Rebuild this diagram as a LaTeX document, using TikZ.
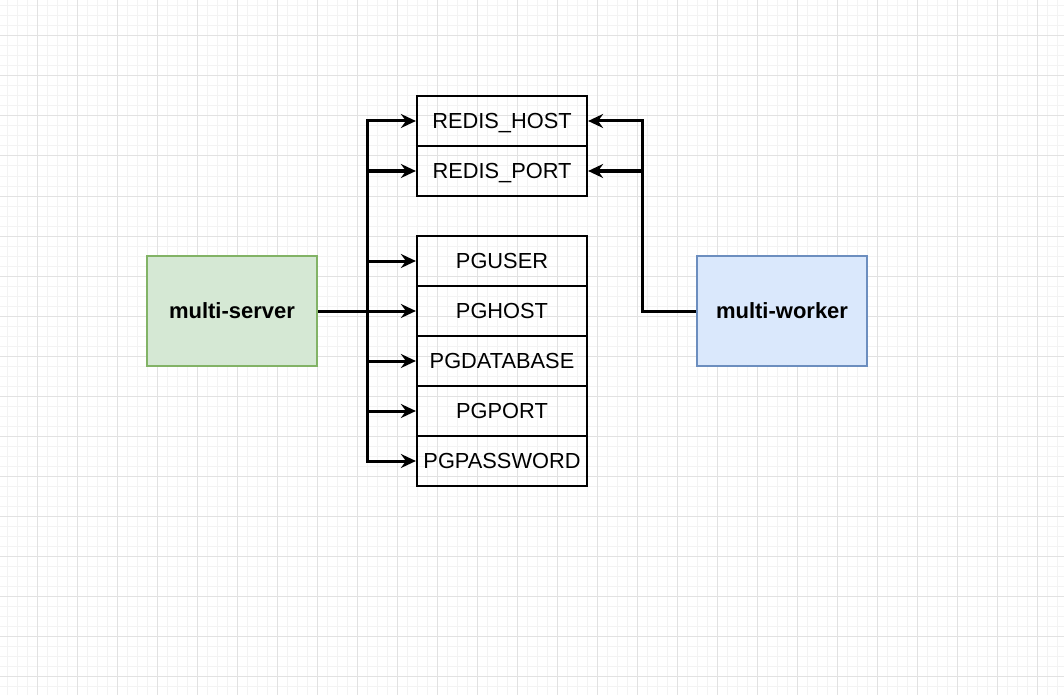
\documentclass[tikz,border=0pt]{standalone}
\usepackage{fontspec}
\setmainfont{Liberation Sans}
\usetikzlibrary{arrows.meta}
\definecolor{srvfill}{HTML}{D5E8D4}
\definecolor{srvline}{HTML}{82B366}
\definecolor{wrkfill}{HTML}{DAE8FC}
\definecolor{wrkline}{HTML}{6C8EBF}
\definecolor{gridminor}{HTML}{F3F3F3}
\definecolor{gridmajor}{HTML}{E2E2E2}
\begin{document}
\begin{tikzpicture}[x=1pt,y=-1pt,
		minor/.style={draw=gridminor,line width=1pt},
		major/.style={draw=gridmajor,line width=1pt},
		app/.style={minimum width=170pt,minimum height=110pt,inner sep=0pt,line width=2pt,
			text height=15.5pt,text depth=0pt,font=\fontsize{22}{26}\selectfont\bfseries},
		var/.style={draw=black,line width=2.2pt,minimum width=170pt,minimum height=50pt,inner sep=0pt,
			text height=15.5pt,text depth=0pt,font=\fontsize{21.8}{26}\selectfont},
		link/.style={line width=3pt,-{Stealth[length=15pt,width=14pt,inset=5pt]}}]
			\useasboundingbox (0,0) rectangle (1064,695);
			\fill[white] (0,0) rectangle (1064,695);
			\foreach \x in {7,17,...,1057} \draw[minor] (\x,0) -- (\x,695);
			\foreach \y in {6,16,...,686} \draw[minor] (0,\y) -- (1064,\y);
			\foreach \x in {37,77,...,1037} \draw[major] (\x,0) -- (\x,695);
			\foreach \y in {36,76,...,676} \draw[major] (0,\y) -- (1064,\y);
			\node[app,fill=srvfill,draw=srvline] (server) at (232,311) {multi-server};
			\node[app,fill=wrkfill,draw=wrkline] (worker) at (782,311) {multi-worker};
			\node[var] (rhost) at (502,121) {REDIS\_HOST};
			\node[var] (rport) at (502,171) {REDIS\_PORT};
			\node[var] (pguser) at (502,261) {PGUSER};
			\node[var] (pghost) at (502,311) {PGHOST};
			\node[var] (pgdb) at (502,361) {PGDATABASE};
			\node[var] (pgport) at (502,411) {PGPORT};
			\node[var] (pgpass) at (502,461) {PGPASSWORD};
			\coordinate (strunk) at (367,311);
			\coordinate (wtrunk) at (642,311);
			\foreach \b in {rhost,rport,pguser,pghost,pgdb,pgport,pgpass}
				\draw[link] (server.east) -- (strunk) |- (\b.west);
			\foreach \b in {rhost,rport}
				\draw[link] (worker.west) -- (wtrunk) |- (\b.east);
		\end{tikzpicture}
\end{document}
